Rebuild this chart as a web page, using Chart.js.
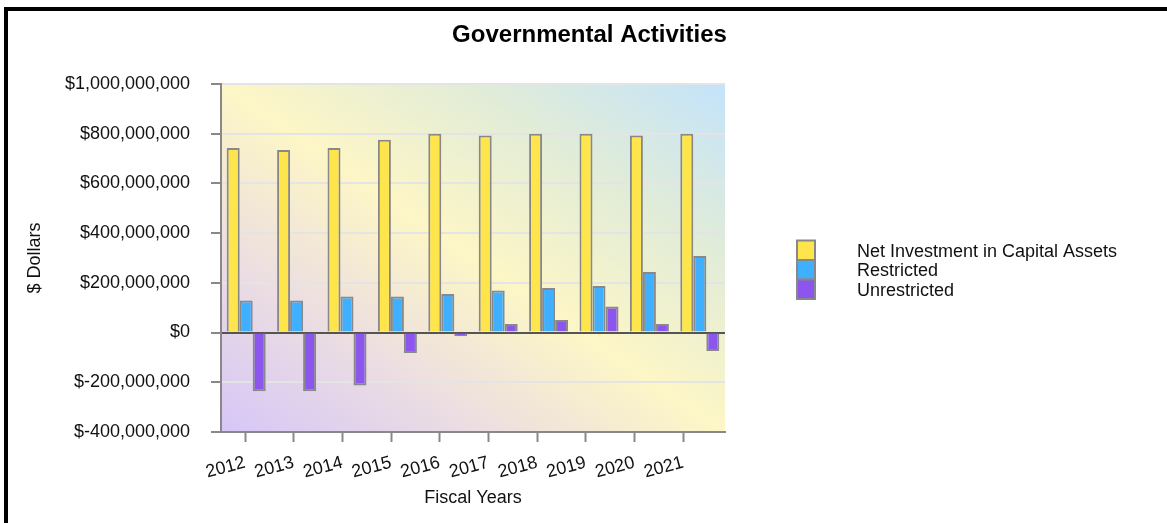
<!DOCTYPE html>
<html>
<head>
<meta charset="utf-8">
<script src="https://cdn.jsdelivr.net/npm/chart.js"></script>
<style>
html,body{margin:0;padding:0;background:#fff;}
#wrap{position:relative;width:1167px;height:523px;overflow:hidden;background:#fff;}
#c{position:absolute;left:0;top:0;}
#frame{position:absolute;left:4px;top:7px;right:-10px;bottom:-10px;border-left:4px solid #000;border-top:4px solid #000;pointer-events:none;}
</style>
</head>
<body>
<div id="wrap"><canvas id="c" width="1167" height="523"></canvas><div id="frame"></div></div>
<script>
// ---- data ----
const years = ['2012','2013','2014','2015','2016','2017','2018','2019','2020','2021'];
const netInvestment = [742000000, 734000000, 742000000, 775000000, 799000000, 792000000, 799000000, 799000000, 792000000, 799000000];
const restricted    = [129000000, 129000000, 145000000, 145000000, 155000000, 169000000, 179000000, 187000000, 243000000, 308000000];
const unrestricted  = [-236000000, -236000000, -213000000, -82000000, -15000000, 34000000, 50000000, 105000000, 34000000, -74000000];
const seriesNames = ['Net Investment in Capital Assets', 'Restricted', 'Unrestricted'];
const yTicks = { min: -400000000, max: 1000000000, step: 200000000 };

const FONT = '"Liberation Sans", Arial, Helvetica, sans-serif';

const bgPlugin = {
  id: 'plotBg',
  beforeDraw(chart) {
    const { ctx, chartArea: a } = chart;
    const w = a.right - a.left, h = a.bottom - a.top;
    ctx.save();
    ctx.translate(a.left, a.top);
    ctx.scale(w, h);
    const g = ctx.createLinearGradient(0, 1, 1, 0);
    g.addColorStop(0, '#d6c6f8');
    g.addColorStop(0.25, '#ebdde2');
    g.addColorStop(0.5, '#fdf6c6');
    g.addColorStop(0.75, '#e1ecd8');
    g.addColorStop(1, '#c3e3fb');
    ctx.fillStyle = g;
    ctx.fillRect(0, 0, 1, 1);
    ctx.restore();
  }
};

const sideLegend = {
  id: 'sideLegend',
  afterDraw(chart, args, opts) {
    const ctx = chart.ctx;
    ctx.save();
    chart.data.datasets.forEach((ds, i) => {
      const bx = opts.x, by = opts.y + i * opts.row;
      ctx.fillStyle = ds.backgroundColor;
      ctx.fillRect(bx, by, opts.box, opts.row);
      ctx.strokeStyle = ds.borderColor;
      ctx.lineWidth = 2;
      ctx.strokeRect(bx, by, opts.box, opts.row);
    });
    chart.data.datasets.forEach((ds, i) => {
      const by = opts.y + i * opts.row;
      ctx.fillStyle = '#111';
      ctx.font = '18px ' + FONT;
      ctx.textAlign = 'left';
      ctx.textBaseline = 'middle';
      ctx.fillText(ds.label, opts.textX, by + opts.row / 2 + 1.5);
    });
    ctx.restore();
  }
};

new Chart(document.getElementById('c'), {
  type: 'bar',
  data: {
    labels: years,
    datasets: [
      { label: seriesNames[0], data: netInvestment, backgroundColor: '#FFE54C', borderColor: '#888888', borderWidth: 2, xAxisID: 'x', yAxisID: 'y' },
      { label: seriesNames[1], data: restricted, backgroundColor: '#3FAFFF', borderColor: '#888888', borderWidth: 2, xAxisID: 'x', yAxisID: 'y' },
      { label: seriesNames[2], data: unrestricted, backgroundColor: '#8B55EE', borderColor: '#888888', borderWidth: 2, xAxisID: 'x', yAxisID: 'y' }
    ]
  },
  plugins: [bgPlugin, sideLegend],
  options: {
    responsive: false,
    animation: false,
    devicePixelRatio: 1,
    layout: { padding: { left: 12, right: 0, top: 0, bottom: 0 } },
    datasets: { bar: { categoryPercentage: 0.774, barPercentage: 1 } },
    plugins: {
      legend: { display: false },
      tooltip: { enabled: false },
      title: {
        display: true,
        text: 'Governmental Activities',
        color: '#000',
        font: { family: FONT, size: 24, weight: 'bold' },
        padding: { top: 21, bottom: 34 }
      },
      sideLegend: { x: 797, y: 240.5, box: 18, row: 19.5, textX: 857 }
    },
    scales: {
      x: { type: 'category', display: false, offset: true },
      xt: {
        type: 'linear',
        position: 'bottom',
        offset: false,
        bounds: 'data',
        min: -0.4931,
        max: 9.862,
        afterBuildTicks(s) { s.ticks = years.map((_, i) => ({ value: i })); },
        afterFit(s) { s.height = 91; },
        ticks: {
          autoSkip: false,
          minRotation: 15, maxRotation: 15, padding: 10,
          color: '#111', font: { family: FONT, size: 18 },
          callback: (v) => (years[v] !== undefined ? years[v] : '')
        },
        grid: { offset: false, drawOnChartArea: false, drawTicks: true, tickLength: 10, tickColor: '#888', tickWidth: 2 },
        border: { display: true, color: '#888', width: 2 },
        title: { display: true, text: 'Fiscal Years', color: '#111', font: { family: FONT, size: 18 }, padding: { top: 0, bottom: 14 } }
      },
      y: {
        type: 'linear',
        position: 'left',
        min: yTicks.min,
        max: yTicks.max,
        afterFit(s) { s.width = 209; },
        ticks: {
          stepSize: yTicks.step, padding: 21, color: '#111', font: { family: FONT, size: 18 },
          callback: (v) => '$' + Number(v).toLocaleString('en-US')
        },
        grid: {
          color: (c) => (c.tick && c.tick.value === 0 ? '#555' : '#e4e4e4'),
          lineWidth: 2, drawTicks: true, tickLength: 10, tickColor: '#888', tickWidth: 2
        },
        border: { display: true, color: '#888', width: 2 },
        title: { display: true, text: '$ Dollars', color: '#111', font: { family: FONT, size: 18 }, padding: { top: 12, bottom: 0 } }
      },
      yr: {
        type: 'linear',
        position: 'right',
        display: true,
        min: 0, max: 1,
        afterFit(s) { s.width = 442; },
        ticks: { display: false },
        grid: { display: false, drawTicks: false },
        border: { display: false }
      }
    }
  }
});
</script>
</body>
</html>
